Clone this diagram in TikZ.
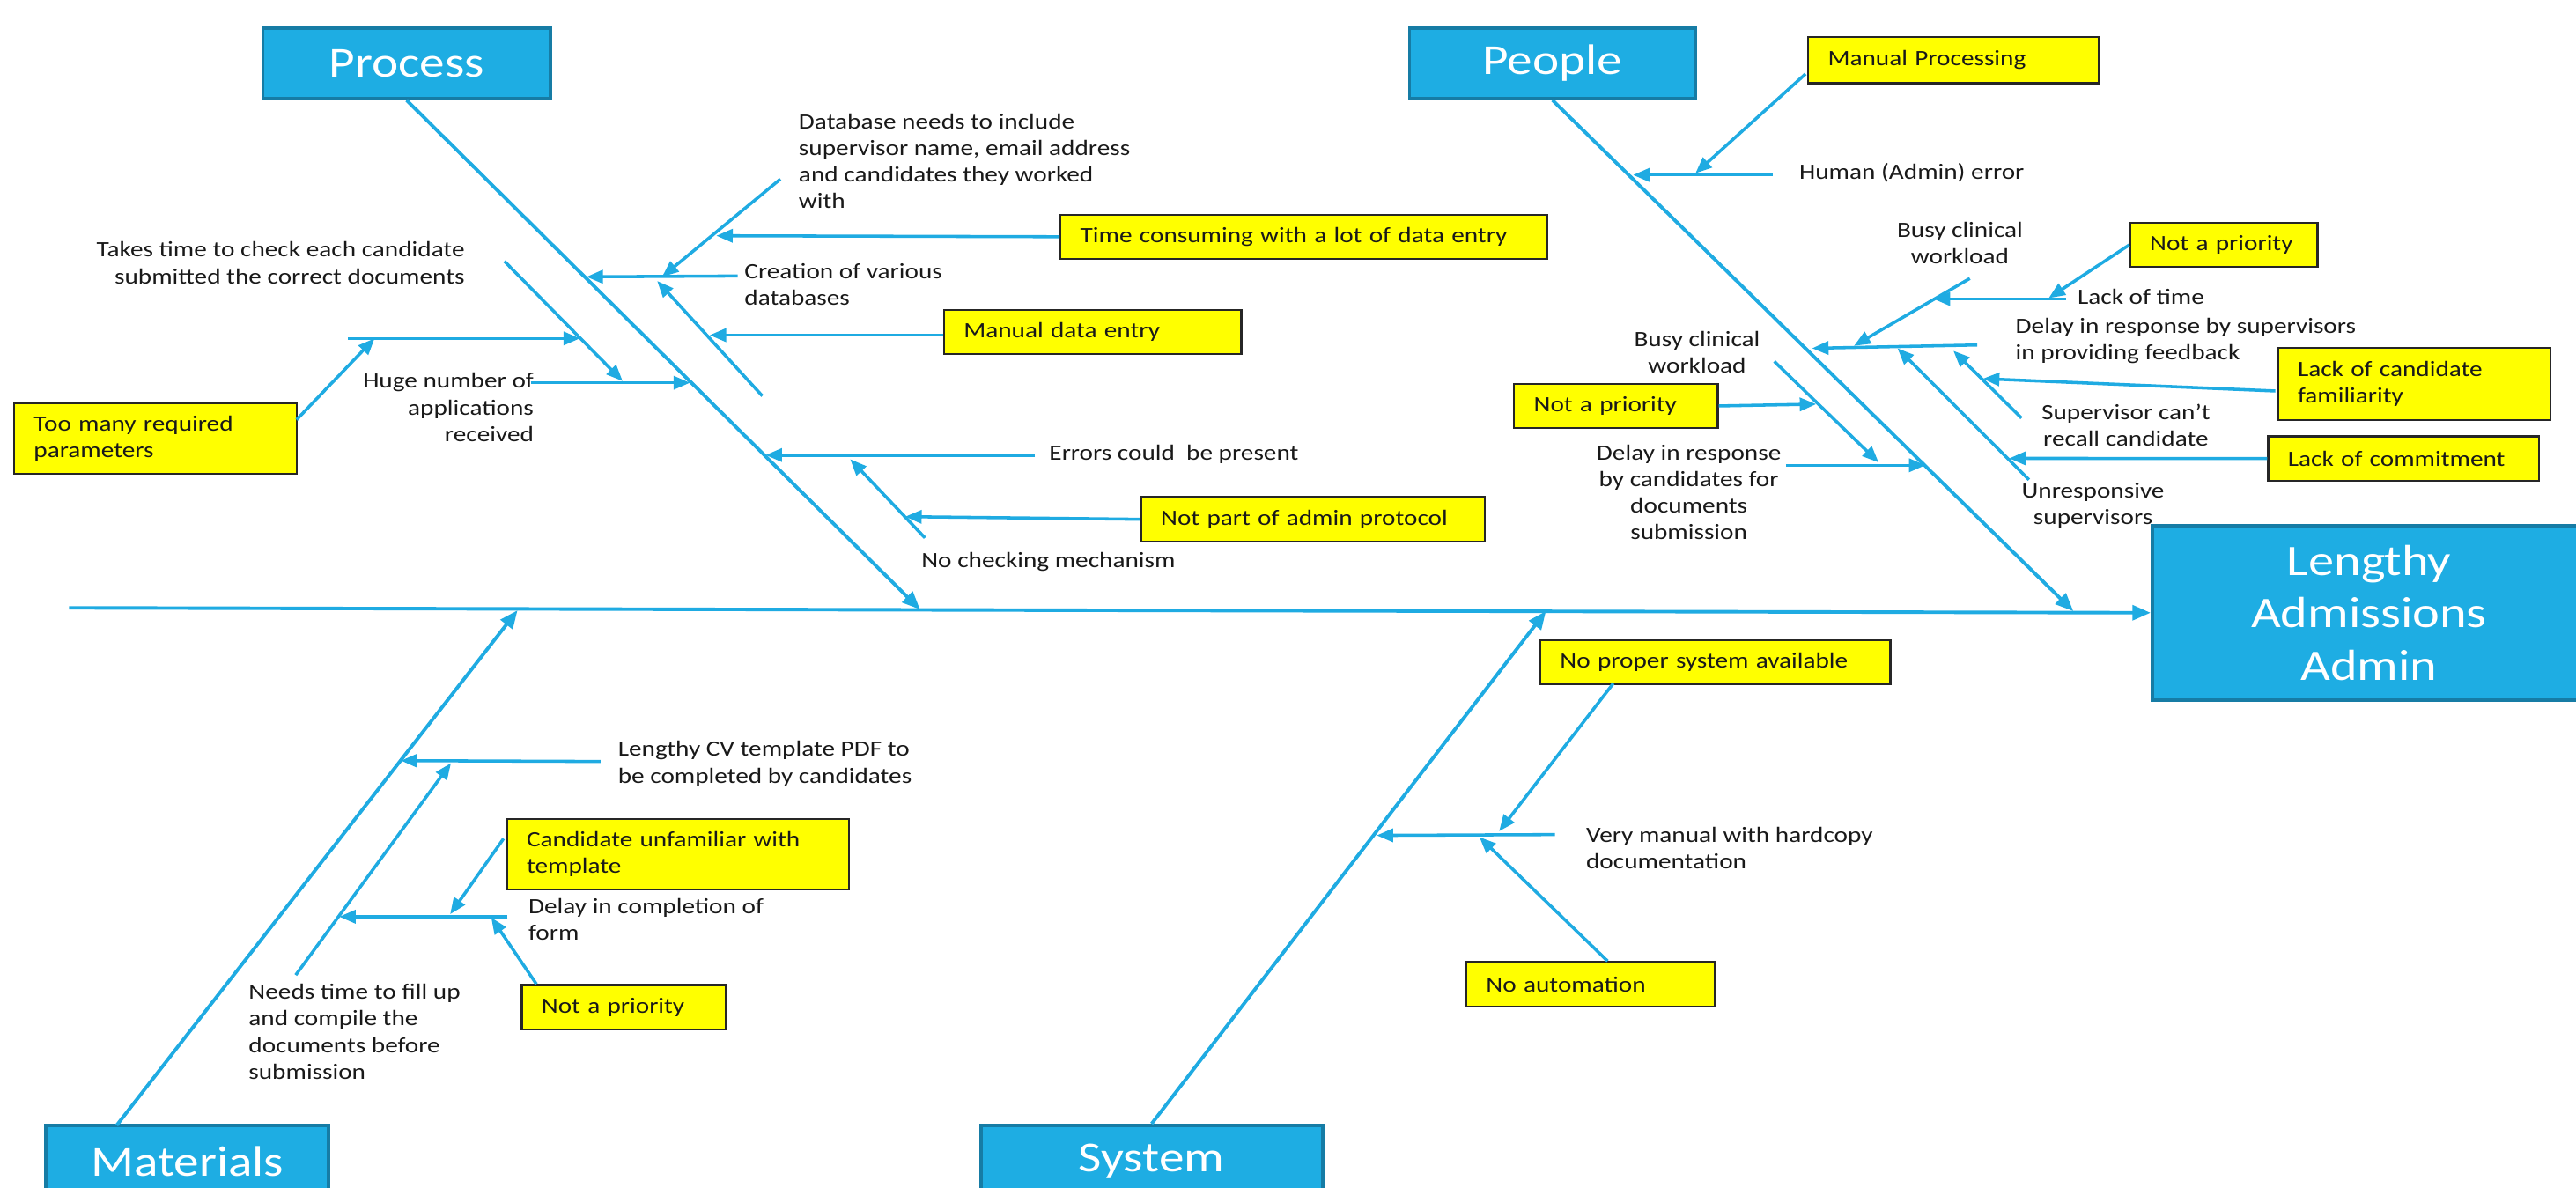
\documentclass[tikz,border=0pt]{standalone}
\usepackage{fontspec}
\setmainfont{Carlito}[FakeStretch=1.18]
\usetikzlibrary{arrows.meta}
\definecolor{lineblue}{RGB}{31,171,226}
\definecolor{boxblue}{RGB}{30,173,227}
\definecolor{boxedge}{RGB}{22,124,165}
\definecolor{hiyellow}{RGB}{255,255,0}
\definecolor{txt}{RGB}{25,25,25}
\newcommand\lblfont{\fontsize{13.3}{16.2}\selectfont}
\begin{document}
\begin{tikzpicture}[x=1pt,y=-1pt,
  conn/.style={draw=lineblue, line width=1.9pt, -{Triangle[length=10pt,width=8pt]}},
  bone/.style={draw=lineblue, line width=2.1pt, -{Triangle[length=11pt,width=9pt]}},
  cat/.style={draw=boxedge, line width=2pt, fill=boxblue, text=white, font=\fontsize{26}{31}\selectfont, inner sep=0pt},
  note/.style={draw=black!85, line width=1.2pt, fill=hiyellow, anchor=north west, inner xsep=12pt, inner ysep=0pt, align=left, text=txt, font=\lblfont},
  lbl/.style={text=txt, font=\lblfont, inner sep=0pt},
]
\clip (0,0) rectangle (1568,723);
\fill[white] (0,0) rectangle (1568,723);

% category boxes and effect
\node[cat, minimum width=175pt, minimum height=43pt] (proc) at (247.5,38.5) {Process};
\node[cat, minimum width=174pt, minimum height=43pt] (peop) at (945,38.5) {People};
\node[cat, minimum width=172pt, minimum height=44pt] (mat) at (114,707) {Materials};
\node[cat, minimum width=208pt, minimum height=44pt] (sys) at (701,707) {System};
\node[cat, minimum width=264pt, minimum height=106pt, align=center, font=\fontsize{26.5}{32}\selectfont] (eff) at (1442,373) {Lengthy\\Admissions\\Admin};

% spine and bones
\coordinate (spineL) at (42,370);
\draw[bone] (spineL) -- (eff.west);
\coordinate (procB) at (560,371);
\draw[bone] (proc.south) -- (procB);
\coordinate (peopB) at (1262,372);
\draw[bone] (peop.south) -- (peopB);
\coordinate (matT) at (71,685);
\coordinate (matB) at (315,371.5);
\draw[bone] (matT) -- (matB);
\coordinate (sysB) at (941,372);
\draw[bone] (sys.north) -- (sysB);

% ---------- Process ----------
\node[lbl, anchor=west, align=left] (dbtxt) at (486,98) {Database needs to include\\supervisor name, email address\\and candidates they worked\\with};
\coordinate (dbS) at (475,109);
\coordinate (dbE) at (403,168.5);
\draw[conn] (dbS) -- (dbE);
\coordinate (crS) at (449,168);
\coordinate (crE) at (357,168.5);
\draw[conn] (crS) -- (crE);
\node[lbl, anchor=west, align=left] (crtxt) at (453,173) {Creation of various\\databases};
\node[note, minimum height=27pt, text width=272pt] (ytime) at (645,130) {Time consuming with a lot of data entry};
\coordinate (tcE) at (436,143.5);
\draw[conn] (ytime.west) -- (tcE);
\node[note, minimum height=27pt, text width=157pt] (ymde) at (574,188) {Manual data entry};
\coordinate (mdS) at (574,204);
\coordinate (mdE) at (432,204);
\draw[conn] (mdS) -- (mdE);
\coordinate (mdaT) at (400,171);
\coordinate (mdaB) at (464,241);
\draw[conn] (mdaB) -- (mdaT);

\node[lbl, anchor=east, align=right] (tttxt) at (283,160) {Takes time to check each candidate\\submitted the correct documents};
\coordinate (ttS) at (307,159);
\coordinate (ttE) at (379,232);
\draw[conn] (ttS) -- (ttE);
\node[lbl, anchor=east, align=right] (hgtxt) at (325,248) {Huge number of\\applications\\received};
\coordinate (hgS) at (323,233);
\coordinate (hgE) at (420,233);
\draw[conn] (hgS) -- (hgE);
\coordinate (tmS) at (212,206);
\coordinate (tmE) at (353,206);
\draw[conn] (tmS) -- (tmE);
\node[note, minimum height=43pt, text width=148pt] (ytoo) at (8,245) {Too many required\\parameters};
\coordinate (toS) at (180.5,255.5);
\coordinate (toE) at (228,206);
\draw[conn] (toS) -- (toE);

\coordinate (erS) at (630,277);
\coordinate (erE) at (466,277);
\draw[conn] (erS) -- (erE);
\node[lbl, anchor=west] (ertxt) at (638.5,276.6) {Errors could\ \ be present};
\coordinate (ncS) at (563,327.4);
\coordinate (ncE) at (517.5,279.5);
\draw[conn] (ncS) -- (ncE);
\node[lbl, anchor=west] (nctxt) at (560.7,341.8) {No checking mechanism};
\node[note, minimum height=27pt, text width=185pt] (ynotp) at (694,302) {Not part of admin protocol};
\coordinate (npE) at (551,314.5);
\draw[conn] (ynotp.west) -- (npE);

% ---------- People ----------
\node[note, minimum height=28pt, text width=153pt] (ymanp) at (1100,22) {Manual Processing};
\coordinate (mpS) at (1099,45);
\coordinate (mpE) at (1032,105.5);
\draw[conn] (mpS) -- (mpE);
\coordinate (huS) at (1079,106.5);
\coordinate (huE) at (994,106.5);
\draw[conn] (huS) -- (huE);
\node[lbl, anchor=west] (hutxt) at (1095,105.4) {Human (Admin) error};

\node[lbl, align=center] (bc1txt) at (1193,148) {Busy clinical\\workload};
\coordinate (bc1S) at (1199,169.5);
\coordinate (bc1E) at (1128.5,210.5);
\draw[conn] (bc1S) -- (bc1E);
\coordinate (ltS) at (1257.5,182);
\coordinate (ltE) at (1177,182);
\draw[conn] (ltS) -- (ltE);
\node[lbl, anchor=west] (lttxt) at (1264.4,180.5) {Lack of time};
\node[note, minimum height=27pt, text width=90pt] (yprio1) at (1296,135) {Not a priority};
\coordinate (p1E) at (1247,181.5);
\draw[conn] (yprio1.west) -- (p1E);

\coordinate (dsS) at (1203.5,210);
\coordinate (dsE) at (1103,212);
\draw[conn] (dsS) -- (dsE);
\node[lbl, anchor=west, align=left] (dstxt) at (1226.7,207.5) {Delay in response by supervisors\\in providing feedback};
\coordinate (unS) at (1235,292);
\coordinate (unE) at (1155,212);
\draw[conn] (unS) -- (unE);
\node[lbl, align=center] (untxt) at (1274,307.7) {Unresponsive\\supervisors};
\coordinate (scS) at (1230.5,254.5);
\coordinate (scE) at (1189,213.5);
\draw[conn] (scS) -- (scE);
\node[lbl, align=center] (sctxt) at (1294,259) {Supervisor can’t\\recall candidate};
\node[note, minimum height=44pt, text width=142pt] (yfam) at (1386,211) {Lack of candidate\\familiarity};
\coordinate (faS) at (1385,238);
\coordinate (faE) at (1207,230.5);
\draw[conn] (faS) -- (faE);
\node[note, minimum height=27pt, text width=141pt] (ycomm) at (1380,265) {Lack of commitment};
\coordinate (cmE) at (1223,279);
\draw[conn] (ycomm.west) -- (cmE);

\node[lbl, align=center] (bc2txt) at (1033,214.5) {Busy clinical\\workload};
\coordinate (bc2S) at (1080,220);
\coordinate (bc2E) at (1143.5,281.5);
\draw[conn] (bc2S) -- (bc2E);
\node[note, minimum height=27pt, text width=100pt] (yprio2) at (921,233) {Not a priority};
\coordinate (p2E) at (1105.5,246);
\draw[conn] (yprio2.east) -- (p2E);
\node[lbl, align=center] (dctxt) at (1028,299.7) {Delay in response\\by candidates for\\documents\\submission};
\coordinate (dcS) at (1087,283.2);
\coordinate (dcE) at (1172,283.2);
\draw[conn] (dcS) -- (dcE);

% ---------- Materials ----------
\node[lbl, anchor=west, align=left] (cvtxt) at (376,465) {Lengthy CV template PDF to\\be completed by candidates};
\coordinate (cvS) at (365.5,463.5);
\coordinate (cvE) at (244,463);
\draw[conn] (cvS) -- (cvE);
\coordinate (ntS) at (180,593.5);
\coordinate (ntE) at (274.5,464.5);
\draw[conn] (ntS) -- (ntE);
\node[lbl, anchor=west, align=left] (nttxt) at (151.2,628) {Needs time to fill up\\and compile the\\documents before\\submission};
\coordinate (dfS) at (309,558);
\coordinate (dfE) at (206.5,558);
\draw[conn] (dfS) -- (dfE);
\node[lbl, anchor=west, align=left] (dftxt) at (321.5,559.5) {Delay in completion of\\form};
\node[note, minimum height=43pt, text width=184pt] (ycand) at (308,498) {Candidate unfamiliar with\\template};
\coordinate (caS) at (306.5,510.5);
\coordinate (caE) at (274,556.5);
\draw[conn] (caS) -- (caE);
\node[note, minimum height=27pt, text width=100pt] (yprio3) at (317,599) {Not a priority};
\coordinate (p3S) at (326.5,599);
\coordinate (p3E) at (299,558.5);
\draw[conn] (p3S) -- (p3E);

% ---------- System ----------
\node[note, minimum height=27pt, text width=189pt] (ysys) at (937,389) {No proper system available};
\coordinate (nsS) at (982,416);
\coordinate (nsE) at (912.5,506);
\draw[conn] (nsS) -- (nsE);
\coordinate (vmS) at (946.5,508);
\coordinate (vmE) at (838,508.5);
\draw[conn] (vmS) -- (vmE);
\node[lbl, anchor=west, align=left] (vmtxt) at (965.3,516.3) {Very manual with hardcopy\\documentation};
\node[note, minimum height=27pt, text width=127pt] (yauto) at (892,585) {No automation};
\coordinate (auS) at (978.5,585);
\coordinate (auE) at (900.5,509.5);
\draw[conn] (auS) -- (auE);
\end{tikzpicture}
\end{document}
